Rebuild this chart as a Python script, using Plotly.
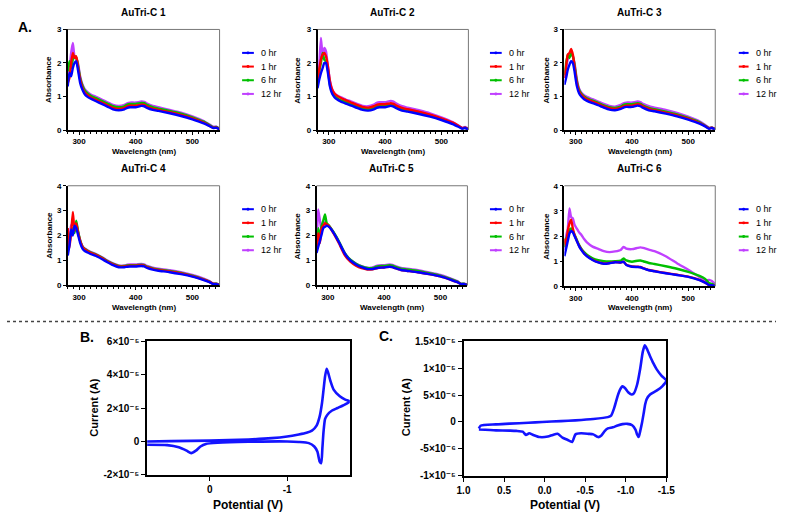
import plotly.graph_objects as go

FIG_W, FIG_H = 785, 520

# ---------------- DATA ----------------
wavelength_nm = [280, 283, 286, 289, 292, 295, 298, 302, 306, 310, 315, 320, 330, 340, 350, 360, 370,
                 380, 385, 390, 400, 410, 415, 420, 430, 440, 460, 480, 500, 520, 530, 537, 542, 548]
time_labels = ["0 hr", "1 hr", "6 hr", "12 hr"]
series_colors = ["#0000FF", "#FF0000", "#00C000", "#C040FF"]
panel_titles = ["AuTri-C 1", "AuTri-C 2", "AuTri-C 3", "AuTri-C 4", "AuTri-C 5", "AuTri-C 6"]

c1_0hr = [1.30, 1.70, 1.60, 1.85, 2.00, 2.05, 1.80, 1.40, 1.20, 1.07, 0.99, 0.94, 0.86, 0.78, 0.70, 0.62, 0.59,
          0.62, 0.66, 0.68, 0.68, 0.72, 0.71, 0.66, 0.60, 0.57, 0.50, 0.42, 0.32, 0.20, 0.12, 0.06, 0.07, 0.02]
c1_1hr = [1.40, 1.55, 2.00, 2.30, 2.15, 2.20, 1.90, 1.50, 1.26, 1.12, 1.04, 0.98, 0.90, 0.82, 0.74, 0.66, 0.63,
          0.66, 0.71, 0.73, 0.73, 0.76, 0.75, 0.70, 0.64, 0.60, 0.53, 0.45, 0.35, 0.22, 0.13, 0.07, 0.08, 0.02]
c1_6hr = [1.75, 2.05, 1.85, 2.10, 2.20, 2.15, 1.95, 1.55, 1.32, 1.18, 1.09, 1.03, 0.95, 0.87, 0.79, 0.71, 0.68,
          0.71, 0.76, 0.78, 0.78, 0.81, 0.80, 0.75, 0.68, 0.64, 0.57, 0.49, 0.38, 0.25, 0.15, 0.08, 0.09, 0.03]
c1_12hr = [1.50, 1.80, 2.30, 2.60, 2.20, 2.15, 2.00, 1.60, 1.36, 1.22, 1.13, 1.07, 0.99, 0.91, 0.83, 0.75, 0.72,
           0.75, 0.80, 0.82, 0.82, 0.85, 0.84, 0.79, 0.72, 0.68, 0.60, 0.52, 0.41, 0.27, 0.17, 0.10, 0.10, 0.04]

c2_0hr = [1.25, 1.50, 1.70, 1.85, 2.00, 2.00, 1.75, 1.30, 1.08, 0.98, 0.91, 0.86, 0.79, 0.73, 0.66, 0.60, 0.58,
          0.62, 0.66, 0.68, 0.68, 0.72, 0.70, 0.65, 0.58, 0.55, 0.48, 0.40, 0.30, 0.18, 0.10, 0.04, 0.06, 0.02]
c2_1hr = [1.50, 1.80, 2.10, 2.25, 2.30, 2.20, 1.95, 1.45, 1.20, 1.09, 1.02, 0.97, 0.89, 0.82, 0.75, 0.69, 0.67,
          0.71, 0.75, 0.77, 0.77, 0.80, 0.78, 0.73, 0.66, 0.62, 0.55, 0.46, 0.35, 0.22, 0.13, 0.06, 0.07, 0.02]
c2_6hr = [1.30, 1.75, 2.00, 2.30, 2.10, 2.05, 1.85, 1.35, 1.12, 1.02, 0.95, 0.90, 0.84, 0.77, 0.70, 0.64, 0.62,
          0.66, 0.71, 0.73, 0.73, 0.77, 0.75, 0.70, 0.63, 0.59, 0.52, 0.44, 0.33, 0.20, 0.12, 0.05, 0.07, 0.02]
c2_12hr = [1.40, 1.90, 2.75, 2.20, 2.45, 2.35, 1.95, 1.48, 1.22, 1.10, 1.03, 0.99, 0.91, 0.85, 0.78, 0.72, 0.71,
           0.76, 0.81, 0.83, 0.83, 0.87, 0.85, 0.79, 0.71, 0.67, 0.59, 0.50, 0.38, 0.24, 0.14, 0.07, 0.09, 0.03]

c3_0hr = [1.35, 1.55, 1.80, 1.95, 2.05, 2.00, 1.75, 1.32, 1.10, 1.00, 0.92, 0.87, 0.80, 0.74, 0.67, 0.61, 0.59,
          0.63, 0.67, 0.69, 0.69, 0.73, 0.71, 0.66, 0.59, 0.56, 0.49, 0.41, 0.31, 0.19, 0.11, 0.04, 0.06, 0.02]
c3_1hr = [1.55, 1.90, 2.25, 2.30, 2.42, 2.25, 1.90, 1.42, 1.16, 1.05, 0.97, 0.92, 0.85, 0.78, 0.71, 0.65, 0.63,
          0.67, 0.71, 0.73, 0.73, 0.77, 0.75, 0.70, 0.63, 0.59, 0.52, 0.44, 0.34, 0.21, 0.12, 0.05, 0.07, 0.02]
c3_6hr = [1.65, 2.00, 2.25, 2.15, 2.30, 2.20, 1.95, 1.47, 1.20, 1.08, 1.00, 0.95, 0.88, 0.81, 0.74, 0.68, 0.66,
          0.70, 0.75, 0.77, 0.77, 0.80, 0.78, 0.73, 0.66, 0.62, 0.55, 0.47, 0.36, 0.23, 0.13, 0.06, 0.07, 0.02]
c3_12hr = [1.55, 1.85, 2.10, 2.20, 2.25, 2.20, 2.00, 1.52, 1.24, 1.12, 1.04, 0.99, 0.92, 0.85, 0.78, 0.72, 0.70,
           0.75, 0.80, 0.82, 0.82, 0.85, 0.83, 0.78, 0.71, 0.67, 0.60, 0.51, 0.40, 0.26, 0.15, 0.07, 0.08, 0.03]

c4_0hr = [1.20, 1.60, 2.25, 2.00, 2.40, 2.30, 2.05, 1.70, 1.48, 1.38, 1.32, 1.26, 1.18, 1.06, 0.93, 0.81, 0.73,
          0.73, 0.75, 0.76, 0.76, 0.78, 0.76, 0.70, 0.63, 0.59, 0.53, 0.45, 0.35, 0.21, 0.13, 0.05, 0.05, 0.01]
c4_1hr = [2.30, 1.50, 2.10, 2.95, 2.20, 2.50, 2.15, 1.78, 1.55, 1.44, 1.37, 1.31, 1.22, 1.10, 0.96, 0.84, 0.76,
          0.76, 0.78, 0.79, 0.79, 0.81, 0.79, 0.73, 0.66, 0.62, 0.56, 0.48, 0.37, 0.23, 0.14, 0.06, 0.06, 0.02]
c4_6hr = [1.40, 1.85, 2.15, 2.30, 2.10, 2.60, 2.20, 1.80, 1.56, 1.46, 1.39, 1.33, 1.24, 1.12, 0.98, 0.86, 0.78,
          0.78, 0.80, 0.81, 0.81, 0.83, 0.81, 0.75, 0.68, 0.64, 0.58, 0.50, 0.39, 0.24, 0.15, 0.06, 0.07, 0.02]
c4_12hr = [1.50, 1.90, 2.40, 2.50, 2.30, 2.45, 2.15, 1.80, 1.58, 1.48, 1.41, 1.35, 1.26, 1.14, 1.00, 0.88, 0.80,
           0.80, 0.83, 0.84, 0.84, 0.86, 0.84, 0.78, 0.71, 0.67, 0.61, 0.53, 0.42, 0.27, 0.17, 0.08, 0.08, 0.03]

c5_0hr = [1.30, 1.55, 1.80, 2.05, 2.30, 2.35, 2.40, 2.35, 2.25, 2.12, 1.93, 1.72, 1.28, 1.00, 0.84, 0.73, 0.66,
          0.66, 0.69, 0.71, 0.72, 0.75, 0.73, 0.69, 0.62, 0.59, 0.53, 0.45, 0.36, 0.21, 0.13, 0.05, 0.05, 0.01]
c5_1hr = [1.55, 2.10, 1.70, 2.30, 2.40, 2.50, 2.45, 2.38, 2.25, 2.10, 1.90, 1.68, 1.22, 0.95, 0.79, 0.69, 0.64,
          0.65, 0.68, 0.71, 0.72, 0.75, 0.73, 0.69, 0.62, 0.59, 0.53, 0.45, 0.36, 0.21, 0.13, 0.05, 0.05, 0.01]
c5_6hr = [1.45, 2.30, 1.90, 2.40, 2.60, 2.85, 2.50, 2.40, 2.28, 2.15, 1.96, 1.75, 1.30, 1.03, 0.87, 0.76, 0.70,
          0.70, 0.74, 0.77, 0.78, 0.81, 0.79, 0.74, 0.67, 0.64, 0.58, 0.49, 0.39, 0.24, 0.15, 0.06, 0.07, 0.02]
c5_12hr = [1.50, 3.05, 2.60, 2.20, 2.45, 2.55, 2.45, 2.38, 2.27, 2.13, 1.95, 1.74, 1.30, 1.03, 0.88, 0.77, 0.71,
           0.72, 0.77, 0.80, 0.81, 0.84, 0.82, 0.77, 0.70, 0.67, 0.61, 0.52, 0.42, 0.26, 0.17, 0.07, 0.08, 0.02]

c6_0hr = [1.20, 1.50, 1.80, 2.10, 2.20, 2.15, 2.00, 1.80, 1.60, 1.45, 1.30, 1.20, 1.05, 0.95, 0.90, 0.92, 0.96,
          0.95, 0.98, 0.85, 0.78, 0.77, 0.76, 0.72, 0.64, 0.60, 0.52, 0.45, 0.38, 0.25, 0.15, 0.05, 0.05, 0.01]
c6_1hr = [1.90, 1.60, 2.20, 2.50, 2.65, 2.30, 2.05, 1.82, 1.62, 1.47, 1.32, 1.21, 1.06, 0.96, 0.91, 0.93, 0.97,
          0.95, 0.98, 0.86, 0.79, 0.78, 0.77, 0.73, 0.65, 0.61, 0.53, 0.46, 0.39, 0.26, 0.15, 0.05, 0.05, 0.01]
c6_6hr = [1.55, 1.90, 2.05, 2.25, 2.30, 2.20, 2.05, 1.85, 1.65, 1.50, 1.36, 1.26, 1.12, 1.04, 1.00, 0.99, 1.00,
          1.02, 1.11, 1.03, 0.98, 1.02, 1.03, 1.00, 0.93, 0.89, 0.80, 0.70, 0.58, 0.42, 0.30, 0.13, 0.10, 0.03]
c6_12hr = [1.45, 2.00, 2.30, 3.10, 2.75, 2.70, 2.45, 2.30, 2.15, 2.05, 1.88, 1.75, 1.58, 1.49, 1.40, 1.36, 1.39,
           1.45, 1.57, 1.50, 1.48, 1.53, 1.55, 1.53, 1.46, 1.40, 1.20, 0.92, 0.66, 0.37, 0.23, 0.26, 0.21, 0.08]

uv_series = [
    [c1_0hr, c1_1hr, c1_6hr, c1_12hr],
    [c2_0hr, c2_1hr, c2_6hr, c2_12hr],
    [c3_0hr, c3_1hr, c3_6hr, c3_12hr],
    [c4_0hr, c4_1hr, c4_6hr, c4_12hr],
    [c5_0hr, c5_1hr, c5_6hr, c5_12hr],
    [c6_0hr, c6_1hr, c6_6hr, c6_12hr],
]
uv_ymax = [3, 3, 3, 4, 4, 4]

# Cyclic voltammetry (B): potential in V, current in microamps
cv_b_potential = [0.81, 0.5, 0.0, -0.5, -0.8, -1.0, -1.15, -1.25, -1.32, -1.38, -1.42, -1.45, -1.47, -1.49,
                  -1.51, -1.53, -1.56, -1.60, -1.68, -1.75, -1.81,
                  -1.72, -1.65, -1.58, -1.52, -1.49, -1.47, -1.455, -1.44, -1.42, -1.39, -1.35, -1.28, -1.15,
                  -1.0, -0.5, -0.1, 0.05, 0.12, 0.18, 0.24, 0.30, 0.40, 0.55, 0.81]
cv_b_current_uA = [0.0, 0.2, 0.5, 1.2, 2.0, 3.0, 4.2, 5.2, 6.5, 9.5, 15, 23, 31, 39,
                   43.5, 41, 36, 31, 27, 25, 23.9,
                   21.5, 20, 18.5, 16, 13.5, 6, -4, -13, -12, -6, -3, -1, -0.3,
                   0, -0.2, -0.8, -1.5, -3, -5.5, -7, -5.5, -3.5, -2.2, -2.0]
cv_b_xticks = [0, -1]
cv_b_xticktext = ["0", "-1"]
cv_b_yticks = [-2e-5, 0, 2e-5, 4e-5, 6e-5]
cv_b_yticktext = ["-2×10⁻⁵", "0", "2×10⁻⁵", "4×10⁻⁵", "6×10⁻⁵"]

# Cyclic voltammetry (C)
cv_c_potential = [0.81, 0.79, 0.6, 0.43, 0.2, 0.03, -0.2, -0.38, -0.6, -0.78, -0.82, -0.86, -0.90, -0.93,
                  -0.96, -0.99, -1.03, -1.07, -1.10, -1.14, -1.18, -1.21, -1.235, -1.26, -1.30, -1.34, -1.38,
                  -1.44, -1.50,
                  -1.45, -1.38, -1.30, -1.26, -1.24, -1.22, -1.20, -1.18, -1.16, -1.14, -1.12, -1.08, -1.02,
                  -0.96, -0.90, -0.84, -0.78, -0.74, -0.70, -0.66, -0.60, -0.54, -0.45, -0.38, -0.34, -0.28,
                  -0.22, -0.16, -0.10, -0.04, 0.06, 0.14, 0.19, 0.23, 0.27, 0.35, 0.43, 0.60, 0.81]
cv_c_current_uA = [-1.2, -0.7, -0.45, -0.3, -0.15, 0.0, 0.15, 0.3, 0.55, 0.9, 1.2, 2.7, 4.8, 6.0,
                   6.6, 6.3, 5.5, 5.1, 5.3, 6.9, 10.0, 13.0, 14.2, 13.6, 12.2, 10.9, 9.8,
                   8.6, 7.7,
                   6.6, 5.8, 5.1, 4.3, 3.3, 1.5, -0.2, -1.6, -2.8, -2.3, -1.4, -0.6, -0.35,
                   -0.4, -0.65, -1.0, -1.2, -1.7, -2.5, -2.8, -2.3, -2.2, -2.1, -2.3, -3.7, -3.3,
                   -2.9, -2.2, -2.4, -2.7, -2.8, -2.4, -2.1, -2.4, -1.8, -1.65, -1.6, -1.55, -1.4]
cv_c_xticks = [1.0, 0.5, 0.0, -0.5, -1.0, -1.5]
cv_c_xticktext = ["1.0", "0.5", "0.0", "-0.5", "-1.0", "-1.5"]
cv_c_yticks = [-1e-5, -5e-6, 0, 5e-6, 1e-5, 1.5e-5]
cv_c_yticktext = ["-1×10⁻⁵", "-5×10⁻⁶", "0", "5×10⁻⁶", "1×10⁻⁵", "1.5×10⁻⁵"]

# ---------------- LAYOUT HELPERS ----------------
FONT = "Liberation Sans, Arial, DejaVu Sans, sans-serif"


def fx(p):
    return p / FIG_W


def fy(p):
    return 1 - p / FIG_H


def bold(size):
    return dict(family=FONT, size=size, color="black", weight="bold")


# plot-area boxes in pixels: (left, right, top, bottom)
uv_boxes = [(62, 217, 24, 127), (317, 471, 24, 127), (569, 723, 24, 127),
            (62, 217, 184, 286), (316, 470, 184, 286), (569, 723, 184, 287)]
title_y = [7, 7, 7, 166, 166, 166]
xtitle_y = [149, 149, 149, 309, 309, 309]
ytitle_x = [43, 297, 551, 43, 297, 550]
legend_geo = [(240, 252, 257), (493, 505, 510), (747, 757, 763),
              (240, 252, 257), (493, 505, 510), (747, 757, 763)]
legend_rows = [[48, 62, 76, 90]] * 3 + [[208, 222, 236, 250]] * 3

fig = go.Figure()
layout = dict(width=FIG_W, height=FIG_H, margin=dict(l=0, r=0, t=0, b=0),
              paper_bgcolor="white", plot_bgcolor="white", showlegend=False,
              font=dict(family=FONT, color="black", size=10))
annotations = []
shapes = []

for i in range(6):
    n = i + 1
    xa = "x" if n == 1 else f"x{n}"
    ya = "y" if n == 1 else f"y{n}"
    l, r, t, b = uv_boxes[i]
    # draw 12 hr first so 0 hr is on top
    for k in [3, 2, 1, 0]:
        fig.add_trace(go.Scatter(
            x=wavelength_nm, y=uv_series[i][k], mode="lines", name=time_labels[k],
            line=dict(color=series_colors[k], width=2.4, shape="spline", smoothing=0.5),
            xaxis=xa, yaxis=ya, hoverinfo="x+y+name"))
    layout[f"xaxis{'' if n == 1 else n}"] = dict(
        domain=[fx(l), fx(r)], anchor=ya, range=[280, 548], tickmode="linear", tick0=0, dtick=100,
        showline=True, linecolor="black", linewidth=1.5, ticks="outside", ticklen=3, tickwidth=1,
        tickcolor="black", showgrid=False, zeroline=False, tickfont=bold(8),
        minor=dict(ticks="outside", ticklen=2, tickmode="linear", tick0=0, dtick=10, tickcolor="black",
                   showgrid=False))
    layout[f"yaxis{'' if n == 1 else n}"] = dict(
        domain=[fy(b), fy(t)], anchor=xa, range=[0, uv_ymax[i]], tickmode="linear", tick0=0, dtick=1,
        showline=True, linecolor="black", linewidth=1.5, ticks="outside", ticklen=3, tickwidth=1,
        tickcolor="black", showgrid=False, zeroline=False, tickfont=bold(8))
    # grey top/right frame
    shapes.append(dict(type="line", xref=f"{xa} domain", yref=f"{ya} domain", x0=0, x1=1, y0=1, y1=1,
                       line=dict(color="#777777", width=1)))
    shapes.append(dict(type="line", xref=f"{xa} domain", yref=f"{ya} domain", x0=1, x1=1, y0=0, y1=1,
                       line=dict(color="#777777", width=1)))
    # titles
    annotations.append(dict(text=panel_titles[i], x=fx((l + r) / 2), y=fy(title_y[i]),
                            xref="paper", yref="paper", showarrow=False, xanchor="center", yanchor="middle",
                            font=bold(10)))
    annotations.append(dict(text="Wavelength (nm)", x=fx((l + r) / 2), y=fy(xtitle_y[i]),
                            xref="paper", yref="paper", showarrow=False, xanchor="center", yanchor="middle",
                            font=bold(8)))
    annotations.append(dict(text="Absorbance", x=fx(ytitle_x[i]), y=fy((t + b) / 2), textangle=-90,
                            xref="paper", yref="paper", showarrow=False, xanchor="center", yanchor="middle",
                            font=bold(8)))
    # legend
    x0, x1, xt = legend_geo[i]
    for k in range(4):
        yy = legend_rows[i][k]
        shapes.append(dict(type="line", xref="paper", yref="paper", x0=fx(x0), x1=fx(x1), y0=fy(yy),
                           y1=fy(yy), line=dict(color=series_colors[k], width=2)))
        cx = (x0 + x1) / 2
        shapes.append(dict(type="circle", xref="paper", yref="paper", x0=fx(cx - 1.5), x1=fx(cx + 1.5),
                           y0=fy(yy + 1.5), y1=fy(yy - 1.5), fillcolor=series_colors[k],
                           line=dict(color=series_colors[k], width=0)))
        annotations.append(dict(text=time_labels[k], x=fx(xt), y=fy(yy), xref="paper", yref="paper",
                                showarrow=False, xanchor="left", yanchor="middle",
                                font=dict(family=FONT, size=9, color="black")))

# ---------------- CV panels ----------------
cv_line = dict(color="#1414FF", width=2.6, shape="spline", smoothing=0.6)
fig.add_trace(go.Scatter(x=cv_b_potential, y=[v * 1e-6 for v in cv_b_current_uA], mode="lines",
                         line=cv_line, xaxis="x7", yaxis="y7", name="B"))
fig.add_trace(go.Scatter(x=cv_c_potential, y=[v * 1e-6 for v in cv_c_current_uA], mode="lines",
                         line=cv_line, xaxis="x8", yaxis="y8", name="C"))

cv_axis_common = dict(showline=True, linecolor="black", linewidth=1.5, mirror=True, ticks="outside",
                      ticklen=4, tickwidth=1.2, tickcolor="black", showgrid=False, zeroline=False,
                      tickfont=bold(10))

layout["xaxis7"] = dict(domain=[fx(143), fx(350)], anchor="y7", range=[0.81, -1.81], tickmode="array",
                        tickvals=cv_b_xticks, ticktext=cv_b_xticktext, **cv_axis_common)
layout["yaxis7"] = dict(domain=[fy(480), fy(343)], anchor="x7", range=[-2e-5, 6e-5], tickmode="array",
                        tickvals=cv_b_yticks, ticktext=cv_b_yticktext, **cv_axis_common)
layout["xaxis8"] = dict(domain=[fx(466), fx(673)], anchor="y8", range=[1.0, -1.5], tickmode="array",
                        tickvals=cv_c_xticks, ticktext=cv_c_xticktext, **cv_axis_common)
layout["yaxis8"] = dict(domain=[fy(481), fy(343)], anchor="x8", range=[-1e-5, 1.5e-5], tickmode="array",
                        tickvals=cv_c_yticks, ticktext=cv_c_yticktext, **cv_axis_common)

for (cx, xt_y, yt_x) in [((143 + 350) / 2, 511, 88), ((466 + 673) / 2, 511, 407)]:
    annotations.append(dict(text="Potential (V)", x=fx(cx), y=fy(xt_y), xref="paper", yref="paper",
                            showarrow=False, xanchor="center", yanchor="middle", font=bold(12)))
    annotations.append(dict(text="Current (A)", x=fx(yt_x), y=fy(411), xref="paper", yref="paper",
                            textangle=-90, showarrow=False, xanchor="center", yanchor="middle", font=bold(11)))

# panel letters
for txt, px_, py_ in [("A.", 18, 22), ("B.", 82, 339), ("C.", 387, 338)]:
    annotations.append(dict(text=txt, x=fx(px_), y=fy(py_), xref="paper", yref="paper",
                            showarrow=False, xanchor="center", yanchor="middle", font=bold(14)))

# dotted separator
shapes.append(dict(type="line", xref="paper", yref="paper", x0=0, x1=1, y0=fy(323), y1=fy(323),
                   line=dict(color="#444444", width=1.5, dash="dot")))

layout["annotations"] = annotations
layout["shapes"] = shapes
fig.update_layout(**layout)
fig.write_html("out.html")
